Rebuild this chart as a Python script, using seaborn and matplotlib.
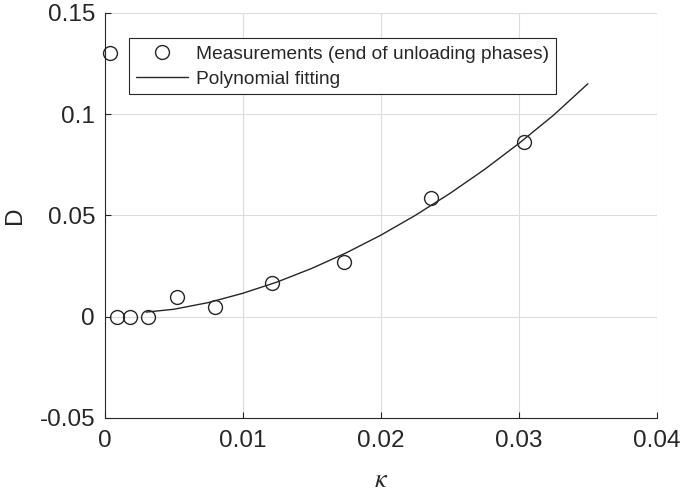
import numpy as np
import pandas as pd
import seaborn as sns
import matplotlib
matplotlib.use("Agg")
import matplotlib.pyplot as plt

# measured points (end of unloading phases)
kappa_meas = [0.0004, 0.0009, 0.0018, 0.0031, 0.0052, 0.0080, 0.0121, 0.0173, 0.0236, 0.0304]
D_meas = [0.130, 0.0, 0.0, 0.0, 0.0099, 0.0046, 0.0165, 0.0268, 0.0587, 0.0864]

# polynomial fitting curve
kappa_fit = [0.003, 0.005, 0.0075, 0.01, 0.0125, 0.015, 0.0175, 0.02,
             0.0225, 0.025, 0.0275, 0.03, 0.0325, 0.035]
D_fit = [0.0022, 0.0036, 0.0069, 0.0115, 0.0171, 0.0238, 0.0315, 0.0402,
         0.0500, 0.0608, 0.0726, 0.0855, 0.0994, 0.1150]

xticks = [0, 0.01, 0.02, 0.03, 0.04]
yticks = [-0.05, 0, 0.05, 0.1, 0.15]
xtick_labels = ["0", "0.01", "0.02", "0.03", "0.04"]
ytick_labels = ["-0.05", "0", "0.05", "0.1", "0.15"]

sns.set_style("whitegrid")
plt.rcParams['font.family'] = ['Liberation Sans', 'DejaVu Sans']
plt.rcParams['mathtext.fontset'] = 'stix'

df_meas = pd.DataFrame({"kappa": kappa_meas, "D": D_meas})
df_fit = pd.DataFrame({"kappa": kappa_fit, "D": D_fit})

fig = plt.figure(figsize=(6.85, 4.95), dpi=100)
ax = fig.add_axes([0.153, 0.156, 0.806, 0.818])

sns.lineplot(data=df_fit, x="kappa", y="D", ax=ax, color="#262626", linewidth=1.0,
             label="Polynomial fitting", sort=False)
ax.plot(df_meas["kappa"], df_meas["D"], linestyle="none", marker="o", markersize=10,
        markerfacecolor="none", markeredgecolor="#262626", markeredgewidth=1.0,
        label="Measurements (end of unloading phases)", clip_on=False)

ax.set_xlim(0, 0.04)
ax.set_ylim(-0.05, 0.15)
ax.set_xticks(xticks)
ax.set_xticklabels(xtick_labels)
ax.set_yticks(yticks)
ax.set_yticklabels(ytick_labels)
ax.tick_params(axis="both", direction="in", length=4, width=0.8, colors="#262626",
               labelsize=17.5, left=True, bottom=True)
ax.tick_params(axis="x", pad=9)
ax.tick_params(axis="y", pad=7)
ax.grid(True, color="#dcdcdc", linewidth=0.8)

for s in ["top", "right"]:
    ax.spines[s].set_visible(False)
for s in ["left", "bottom"]:
    ax.spines[s].set_color("#262626")
    ax.spines[s].set_linewidth(0.8)

ax.set_xlabel(r"$\kappa$", fontsize=19, color="#262626", labelpad=11)
ax.set_ylabel("D", fontsize=17.5, color="#262626", labelpad=10)

handles, labels = ax.get_legend_handles_labels()
order = [1, 0]
leg = ax.legend([handles[i] for i in order], [labels[i] for i in order],
                loc="upper left", bbox_to_anchor=(0.044, 0.937), fontsize=13.8,
                fancybox=False, framealpha=1, edgecolor="#262626",
                borderpad=0.35, handlelength=2.7, labelspacing=0.4,
                handletextpad=0.45, borderaxespad=0)
leg.get_frame().set_linewidth(0.8)

fig.savefig("out.png", dpi=100)
